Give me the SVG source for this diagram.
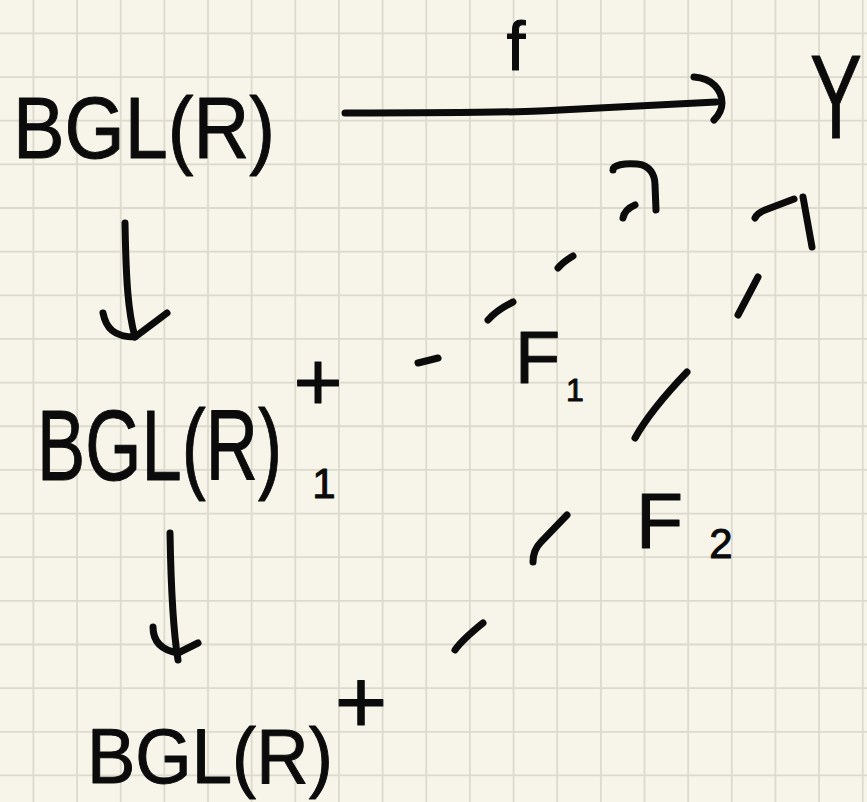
<svg xmlns="http://www.w3.org/2000/svg" width="867" height="802" viewBox="0 0 867 802">
<style>
.grid{stroke:#dcdacd;stroke-width:1.8;fill:none}
.ink{stroke:#0b0b0b;stroke-width:7;fill:none;stroke-linecap:round;stroke-linejoin:round}
.t{font-family:"Liberation Sans","DejaVu Sans",sans-serif;fill:#0b0b0b;stroke:#0b0b0b;stroke-width:1;stroke-linejoin:round}
</style>
<rect width="867" height="802" fill="#f7f5e9"/>
<path class="grid" d="M33.4,0V802M77.05,0V802M120.7,0V802M164.35,0V802M208,0V802M251.65,0V802M295.3,0V802M338.95,0V802M382.6,0V802M426.25,0V802M469.9,0V802M513.55,0V802M557.2,0V802M600.85,0V802M644.5,0V802M688.15,0V802M731.8,0V802M775.45,0V802M819.1,0V802M862.75,0V802M0,33.4H867M0,77.05H867M0,120.7H867M0,164.35H867M0,208H867M0,251.65H867M0,295.3H867M0,338.95H867M0,382.6H867M0,426.25H867M0,469.9H867M0,513.55H867M0,557.2H867M0,600.85H867M0,644.5H867M0,688.15H867M0,731.8H867M0,775.45H867"/>
<g id="node-bgl">
<text class="t" transform="translate(13,158) scale(0.879,1)" font-size="88">BGL(R)</text>
</g>
<g id="node-y">
<text class="t" transform="translate(810,138) scale(0.66,1)" font-size="118">Y</text>
</g>
<g id="node-bgl1plus">
<text class="t" transform="translate(37,480) scale(0.723,1)" font-size="100">BGL(R)</text>
<text class="t" x="318" y="410" font-size="84" text-anchor="middle">+</text>
<text class="t" x="324" y="498" font-size="42" text-anchor="middle">1</text>
</g>
<g id="node-bglplus">
<text class="t" transform="translate(87,783) scale(0.93,1)" font-size="78">BGL(R)</text>
<text class="t" x="361" y="733" font-size="90" text-anchor="middle">+</text>
</g>
<g id="connectors">
<path class="ink" d="M345,113 C430,113 520,113 560,110 L716,102"/>
<path class="ink" d="M694,77 C712,78 722,90 722,103 C722,110 718,116 714,120"/>
<path class="ink" d="M125,223 C126,280 128,312 135,337"/>
<path class="ink" d="M103,313 C106,328 114,337 135,337 L167,313"/>
<path class="ink" d="M170,533 C171,590 173,630 178,660"/>
<path class="ink" d="M153,627 C153,641 161,650 178,653 L198,643"/>
<path class="ink" d="M418,363 L438,358"/>
<path class="ink" d="M488,320 C495,312 505,306 513,302"/>
<path class="ink" d="M558,268 C563,262 568,259 573,256"/>
<path class="ink" d="M623,218 C624,212 628,208 635,205"/>
<path class="ink" d="M613,170 C613,165 624,163 637,164 C650,165 655,175 655,185 L656,210"/>
<path class="ink" d="M455,650 C462,640 472,632 483,623"/>
<path class="ink" d="M533,562 C533,551 537,546 541,542 L567,515"/>
<path class="ink" d="M635,438 C645,420 665,395 687,372"/>
<path class="ink" d="M738,315 L758,277"/>
<path class="ink" d="M755,218 C757,214 760,212 765,210 L794,199"/>
<path class="ink" d="M803,197 L812,247"/>
</g>
<g id="label-f">
<text class="t" x="516" y="70" font-size="68" text-anchor="middle">f</text>
</g>
<g id="label-f1">
<text class="t" x="515" y="383" font-size="74">F</text>
<text class="t" x="575" y="401" font-size="32" text-anchor="middle">1</text>
</g>
<g id="label-f2">
<text class="t" x="636" y="548" font-size="77">F</text>
<text class="t" x="721" y="558" font-size="42" text-anchor="middle">2</text>
</g>
</svg>
